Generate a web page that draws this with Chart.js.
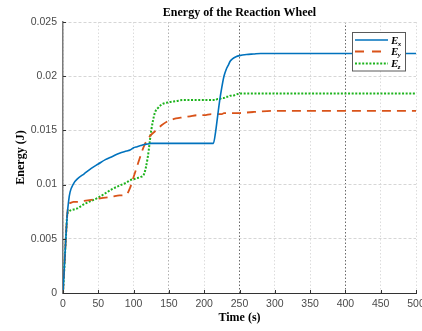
<!DOCTYPE html>
<html>
<head>
<meta charset="utf-8">
<script src="https://cdn.jsdelivr.net/npm/chart.js@4"></script>
<style>
  html, body { margin: 0; padding: 0; background: #fff; }
  #wrap { width: 422px; height: 331px; position: relative; }
</style>
</head>
<body>
<div id="wrap"><canvas id="c" width="422" height="331"></canvas></div>
<script>
// Sample times (s)
const time = [0, 2, 4, 6, 8, 10, 15, 20, 30, 40, 50, 60, 70, 80, 90, 95, 100, 105, 110, 115,
  120, 125, 130, 135, 140, 150, 160, 170, 180, 190, 200, 210, 213, 216, 219, 222, 225, 228,
  231, 234, 237, 240, 245, 250, 260, 270, 280, 300, 350, 400, 450, 500];

// Reaction wheel energy about each body axis (J)
const energyX = [0, 0.0025, 0.005, 0.0072, 0.0085, 0.0093, 0.0101, 0.0105, 0.0110, 0.0115,
  0.0119, 0.0123, 0.0126, 0.0129, 0.0131, 0.0132, 0.0134, 0.0135, 0.0136, 0.0137,
  0.01375, 0.0138, 0.0138, 0.0138, 0.0138, 0.0138, 0.0138, 0.0138, 0.0138, 0.0138, 0.0138, 0.0138, 0.0138,
  0.0148, 0.0163, 0.0178, 0.0190, 0.0200, 0.0206, 0.0210, 0.0214, 0.0216, 0.0218, 0.0219,
  0.0220, 0.02205, 0.0221, 0.0221, 0.0221, 0.0221, 0.0221, 0.0221];

const energyY = [0, 0.0025, 0.005, 0.0072, 0.0082, 0.0083, 0.0084, 0.0084, 0.0085, 0.0086,
  0.0087, 0.0088, 0.0089, 0.0090, 0.0091, 0.0097, 0.0107, 0.0117, 0.0127, 0.0136,
  0.0142, 0.0146, 0.0149, 0.0152, 0.0155, 0.0159, 0.0161, 0.0162, 0.0163, 0.0164, 0.0164, 0.0165, 0.0165,
  0.0165, 0.0165, 0.0165, 0.0165, 0.0166, 0.0166, 0.0166, 0.0166, 0.0166, 0.0166, 0.0166,
  0.01665, 0.0167, 0.01675, 0.0168, 0.0168, 0.0168, 0.0168, 0.0168];

const energyZ = [0, 0.0025, 0.005, 0.0072, 0.0075, 0.0076, 0.0077, 0.0078, 0.0082, 0.0085,
  0.0088, 0.0092, 0.0096, 0.0099, 0.0102, 0.0104, 0.0105, 0.0106, 0.0107, 0.0110,
  0.0125, 0.0150, 0.0166, 0.0171, 0.0174, 0.0176, 0.0177, 0.0178, 0.0178, 0.0178, 0.0178, 0.0178, 0.0178,
  0.0178, 0.0179, 0.0179, 0.0180, 0.0180, 0.0181, 0.0181, 0.0182, 0.0182, 0.0183, 0.0184,
  0.0184, 0.0184, 0.0184, 0.0184, 0.0184, 0.0184, 0.0184, 0.0184];

const seriesNames = [['E', 'x'], ['E', 'y'], ['E', 'z']];
const xTicks = [0, 50, 100, 150, 200, 250, 300, 350, 400, 450, 500];
const yTicks = [0, 0.005, 0.01, 0.015, 0.02, 0.025];

const chartTitle = 'Energy of the Reaction Wheel';
const xTitle = 'Time (s)';
const yTitle = 'Energy (J)';

const toPoints = ys => time.map((t, i) => ({ x: t, y: ys[i] }));

const styles = [
  { color: '#0072BD', dash: [], width: 1.6 },
  { color: '#D95319', dash: [9, 6], width: 1.8 },
  { color: '#1DB31D', dash: [2, 1.6], width: 2 }
];

const seriesData = [energyX, energyY, energyZ];

const datasets = seriesData.map((ys, i) => ({
  label: seriesNames[i].join(''),
  data: toPoints(ys),
  borderColor: styles[i].color,
  borderDash: styles[i].dash,
  borderWidth: styles[i].width,
  pointRadius: 0,
  cubicInterpolationMode: 'monotone',
  fill: false
}));

const serif = '"Liberation Serif", "DejaVu Serif", serif';
const sans = '"Liberation Sans", Arial, sans-serif';

// white page, axis titles, inward tick marks and the boxed legend
const decorations = {
  id: 'decorations',
  beforeDraw(chart) {
    const ctx = chart.ctx;
    ctx.save();
    ctx.fillStyle = '#fff';
    ctx.fillRect(0, 0, chart.width, chart.height);
    ctx.restore();
  },
  afterDraw(chart) {
    const ctx = chart.ctx;
    const a = chart.chartArea;
    const xs = chart.scales.x, ys = chart.scales.y;
    ctx.save();

    // tick marks pointing into the plot
    ctx.strokeStyle = '#333';
    ctx.lineWidth = 1;
    ctx.beginPath();
    xTicks.forEach(v => {
      const px = Math.round(xs.getPixelForValue(v)) + 0.5;
      ctx.moveTo(px, a.bottom);
      ctx.lineTo(px, a.bottom - 3);
    });
    yTicks.forEach(v => {
      const py = Math.round(ys.getPixelForValue(v)) + 0.5;
      ctx.moveTo(a.left, py);
      ctx.lineTo(a.left + 3, py);
    });
    ctx.stroke();

    // titles
    ctx.fillStyle = '#000';
    ctx.textAlign = 'center';
    ctx.textBaseline = 'middle';
    ctx.font = 'bold 12px ' + serif;
    ctx.fillText(chartTitle, (a.left + a.right) / 2, 13);
    ctx.fillText(xTitle, (a.left + a.right) / 2, 318);
    ctx.save();
    ctx.translate(21, (a.top + a.bottom) / 2);
    ctx.rotate(-Math.PI / 2);
    ctx.fillText(yTitle, 0, 0);
    ctx.restore();

    // legend
    const bx = 352.5, by = 32.5, bw = 53, bh = 38.5;
    ctx.fillStyle = '#fff';
    ctx.fillRect(bx, by, bw, bh);
    ctx.strokeStyle = '#5a5a5a';
    ctx.lineWidth = 1;
    ctx.strokeRect(bx, by, bw, bh);
    const rows = [40, 51.5, 63.5];
    chart.data.datasets.forEach((ds, i) => {
      const y = rows[i];
      ctx.save();
      ctx.strokeStyle = ds.borderColor;
      ctx.lineWidth = ds.borderWidth;
      ctx.setLineDash(i === 1 ? [9, 8] : ds.borderDash);
      ctx.beginPath();
      ctx.moveTo(355, y);
      ctx.lineTo(388, y);
      ctx.stroke();
      ctx.restore();
      ctx.fillStyle = '#000';
      ctx.textAlign = 'left';
      ctx.textBaseline = 'alphabetic';
      ctx.font = 'italic bold 11px ' + serif;
      ctx.fillText(seriesNames[i][0], 391, y + 3.5);
      const w = ctx.measureText(seriesNames[i][0]).width;
      ctx.font = 'italic bold 7px ' + serif;
      ctx.fillText(seriesNames[i][1], 391 + w - 0.5, y + 5.5);
    });
    ctx.restore();
  }
};

const gridColorX = ctx => {
  const v = ctx.tick && ctx.tick.value;
  if (v === 250 || v === 400) return '#6a6a6a';
  if (v === 150) return '#b0b0b0';
  return '#dcdcdc';
};

new Chart(document.getElementById('c'), {
  type: 'line',
  data: { datasets },
  options: {
    responsive: false,
    animation: false,
    devicePixelRatio: 1,
    layout: { padding: { top: 22, right: 6, bottom: 0, left: 0 } },
    plugins: {
      legend: { display: false },
      title: { display: false },
      tooltip: { enabled: false }
    },
    scales: {
      x: {
        type: 'linear',
        min: 0,
        max: 500,
        afterBuildTicks: s => { s.ticks = xTicks.map(v => ({ value: v })); },
        afterFit: s => { s.height = 38; s.paddingLeft = 0; s.paddingRight = 0; },
        ticks: {
          color: '#4a4a4a',
          font: { family: sans, size: 10.5 },
          padding: 5,
          maxRotation: 0,
          autoSkip: false
        },
        grid: {
          color: gridColorX,
          lineWidth: 1,
          drawTicks: false,
          tickLength: 0
        },
        border: { color: '#333', width: 1, dash: [1.5, 2] }
      },
      y: {
        type: 'linear',
        min: 0,
        max: 0.025,
        afterBuildTicks: s => { s.ticks = yTicks.map(v => ({ value: v })); },
        afterFit: s => { s.width = 63; s.paddingTop = 0; s.paddingBottom = 0; },
        ticks: {
          color: '#4a4a4a',
          font: { family: sans, size: 10.5 },
          padding: 6,
          autoSkip: false,
          callback: v => String(parseFloat(Number(v).toFixed(3)))
        },
        grid: {
          color: '#d6d6d6',
          lineWidth: 1,
          drawTicks: false,
          tickLength: 0
        },
        border: { color: '#7a7a7a', width: 1.5, dash: [3, 2] }
      }
    }
  },
  plugins: [decorations]
});
</script>
</body>
</html>
